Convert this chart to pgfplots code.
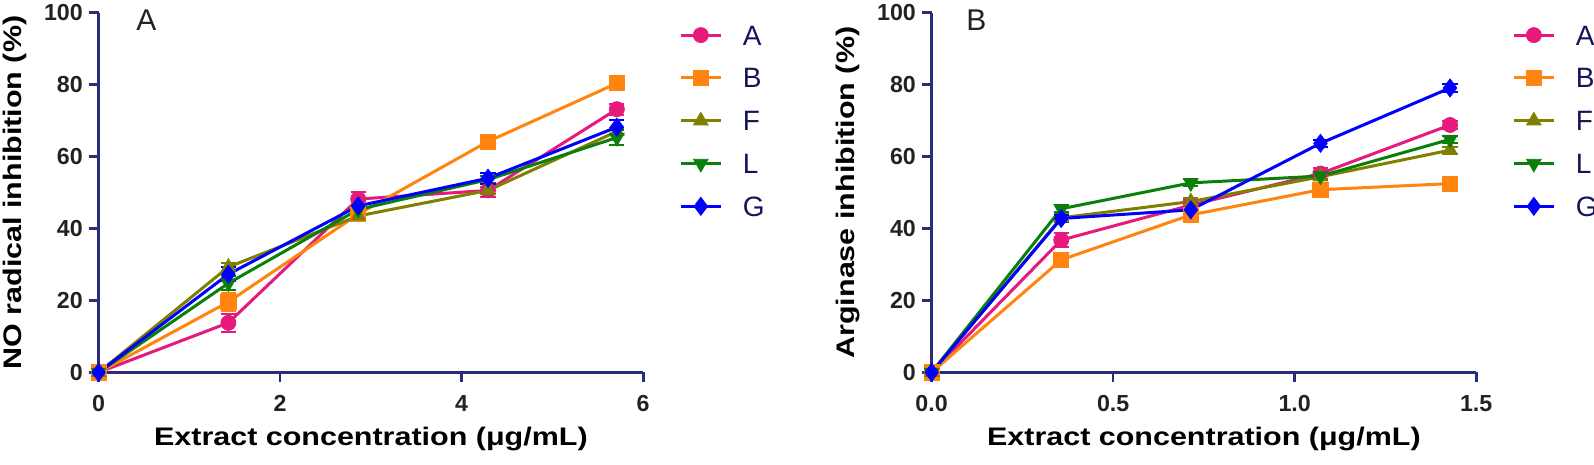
\documentclass[border=0pt]{standalone}
\usepackage{pgfplots}
\pgfplotsset{compat=1.18}
\usepackage{fontspec}
\setmainfont{Liberation Sans}
\newfontfamily\labfont[FakeStretch=1.2,UprightFont={* Bold}]{Liberation Sans}
\newfontfamily\tickfont[UprightFont={* Bold}]{Liberation Sans}
\definecolor{axnavy}{HTML}{2A2C7C}
\definecolor{tickgray}{HTML}{222222}
\definecolor{legnavy}{HTML}{14145A}
\definecolor{apink}{HTML}{E6197D}
\definecolor{borange}{HTML}{FF8410}
\definecolor{folive}{HTML}{808000}
\definecolor{lgreen}{HTML}{0A800A}
\definecolor{gblue}{HTML}{0000FF}
\pgfplotsset{
 myax/.style={
  scale only axis, width=272.3pt, height=179.8pt,
  axis x line=bottom, axis y line=left,
  axis line style={-, axnavy, line width=1.35pt},
  every tick/.style={axnavy, line width=1.35pt},
  tick align=outside, major tick length=5pt,
  ymin=0, ymax=100, ytick={0,20,40,60,80,100},
  yticklabels={0,20,40,60,80,100},
  clip=false,
  /pgf/number format/assume math mode=true,
  ticklabel style={font=\tickfont\fontsize{11.6}{11.6}\selectfont, text=tickgray},
  yticklabel style={anchor=east, inner sep=0pt, xshift=-2.7pt},
  xticklabel style={anchor=base, inner sep=0pt, yshift=-14.5pt},
  every axis x label/.style={at={(axis description cs:0.5,0)}, anchor=base, yshift=-36.4pt,
     font=\labfont\fontsize{12.7}{12.7}\selectfont, text=black},
  every axis y label/.style={at={(axis description cs:-0.1407,0.5)}, anchor=base, rotate=90,
     font=\labfont\fontsize{12.7}{12.7}\selectfont, text=black},
  legend cell align=left,
  legend style={at={(axis description cs:1.0546,0.978)}, anchor=north west, draw=none, fill=none,
     font=\fontsize{14}{14}\selectfont, text=legnavy, row sep=11.4pt, column sep=10.3pt,
     nodes={inner sep=0pt, text height=10pt, text depth=0pt}},
  legend image code/.code={\draw[mark repeat=2,mark phase=2,#1] plot coordinates {(0pt,0pt)(10pt,0pt)(20pt,0pt)};},
  error bars/error bar style={line width=1pt},
  error bars/error mark options={rotate=90, mark size=3.8pt, line width=1pt},
 },
 sA/.style={color=apink, line width=1.5pt, mark=*, mark size=3.75pt, mark options={solid, fill=apink, line width=0.4pt}},
 sB/.style={color=borange, line width=1.5pt, mark=square*, mark size=3.8pt, mark options={solid, fill=borange, line width=0.4pt}},
 sF/.style={color=folive, line width=1.5pt, mark=triangle*, mark size=4.2pt, mark options={solid, fill=folive, line width=0.4pt}},
 sL/.style={color=lgreen, line width=1.5pt, mark=triangle*, mark size=4.2pt, mark options={solid, fill=lgreen, rotate=180, line width=0.4pt}},
 sG/.style={color=gblue, line width=1.5pt, mark=diamond*, mark size=4.5pt, mark options={solid, fill=gblue, line width=0.4pt}},
}
\begin{document}
\begin{tikzpicture}
\begin{axis}[myax, at={(0pt,0pt)}, anchor=south west,
  xmin=0, xmax=6, xtick={0,2,4,6}, xticklabels={0,2,4,6},
  xlabel={Extract concentration (μg/mL)},
  ylabel={NO radical inhibition (\%)}]
\addplot+[sA, error bars/.cd, y dir=both, y explicit] coordinates {
 (0,0) +- (0,0) (1.43,13.8) +- (0,2.5) (2.86,48.2) +- (0,2) (4.29,50.6) +- (0,1.8) (5.71,73.2) +- (0,1.5)};
\addlegendentry{A}
\addplot+[sB, error bars/.cd, y dir=both, y explicit] coordinates {
 (0,0) +- (0,0) (1.43,19.6) +- (0,2.5) (2.86,44.0) +- (0,1) (4.29,64.2) +- (0,1) (5.71,80.4) +- (0,1.5)};
\addlegendentry{B}
\addplot+[sF, error bars/.cd, y dir=both, y explicit] coordinates {
 (0,0) +- (0,0) (1.43,29.3) +- (0,1) (2.86,43.5) +- (0,1) (4.29,50.6) +- (0,1) (5.71,67.0) +- (0,1)};
\addlegendentry{F}
\addplot+[sL, error bars/.cd, y dir=both, y explicit] coordinates {
 (0,0) +- (0,0) (1.43,24.8) +- (0,2) (2.86,45.3) +- (0,1) (4.29,53.6) +- (0,1) (5.71,65.3) +- (0,2)};
\addlegendentry{L}
\addplot+[sG, error bars/.cd, y dir=both, y explicit] coordinates {
 (0,0) +- (0,0) (1.43,27.3) +- (0,2) (2.86,46.3) +- (0,1.5) (4.29,54.0) +- (0,1.5) (5.71,68.2) +- (0,2)};
\addlegendentry{G}
\node[anchor=base west, inner sep=0pt, font=\fontsize{15}{15}\selectfont, text=tickgray] at (axis description cs:0.0687,0.952) {A};
\end{axis}
\begin{axis}[myax, at={(416.5pt,0pt)}, anchor=south west,
  xmin=0, xmax=1.5, xtick={0,0.5,1,1.5}, xticklabels={0.0,0.5,1.0,1.5},
  xlabel={Extract concentration (μg/mL)},
  ylabel={Arginase inhibition (\%)}]
\addplot+[sA, error bars/.cd, y dir=both, y explicit] coordinates {
 (0,0) +- (0,0) (0.357,36.8) +- (0,2) (0.714,46.5) +- (0,1.5) (1.071,55.3) +- (0,1.5) (1.428,68.8) +- (0,1)};
\addlegendentry{A}
\addplot+[sB, error bars/.cd, y dir=both, y explicit] coordinates {
 (0,0) +- (0,0) (0.357,31.3) +- (0,1) (0.714,43.8) +- (0,1) (1.071,50.8) +- (0,1) (1.428,52.5) +- (0,1)};
\addlegendentry{B}
\addplot+[sF, error bars/.cd, y dir=both, y explicit] coordinates {
 (0,0) +- (0,0) (0.357,43.0) +- (0,1) (0.714,47.5) +- (0,1) (1.071,54.4) +- (0,1) (1.428,61.8) +- (0,1)};
\addlegendentry{F}
\addplot+[sL, error bars/.cd, y dir=both, y explicit] coordinates {
 (0,0) +- (0,0) (0.357,45.5) +- (0,1) (0.714,52.7) +- (0,1) (1.071,54.6) +- (0,1) (1.428,64.8) +- (0,1)};
\addlegendentry{L}
\addplot+[sG, error bars/.cd, y dir=both, y explicit] coordinates {
 (0,0) +- (0,0) (0.357,42.8) +- (0,1) (0.714,45.2) +- (0,1) (1.071,63.7) +- (0,1) (1.428,79.1) +- (0,1)};
\addlegendentry{G}
\node[anchor=base west, inner sep=0pt, font=\fontsize{15}{15}\selectfont, text=tickgray] at (axis description cs:0.063,0.952) {B};
\end{axis}
\pgfresetboundingbox
\path (-49.3pt,-45.9pt) rectangle (747.7pt,186.2pt);
\end{tikzpicture}
\end{document}
